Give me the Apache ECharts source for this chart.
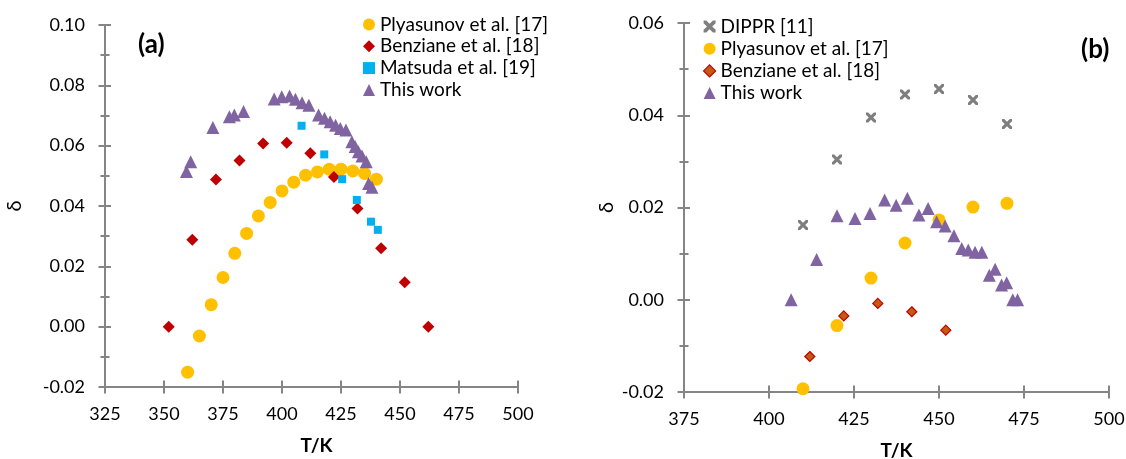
<!DOCTYPE html>
<html>
<head>
<meta charset="utf-8">
<script src="https://cdn.jsdelivr.net/npm/echarts@6/dist/echarts.min.js"></script>
<style>
html,body{margin:0;padding:0;background:#fff;}
#c{width:1126px;height:459px;}
</style>
</head>
<body>
<div id="c"></div>
<script>
// ---------- Panel (a) data ----------
const aPlyT = [360, 365, 370, 375, 380, 385, 390, 395, 400, 405, 410, 415, 420, 425, 430, 435, 440];
const aPlyD = [-0.0151, -0.0031, 0.0073, 0.0163, 0.0243, 0.0309, 0.0367, 0.0412, 0.0450, 0.0479, 0.0502, 0.0513, 0.0522, 0.0522, 0.0516, 0.0508, 0.0489];
const aBenT = [352, 362, 372, 382, 392, 402, 412, 422, 432, 442, 452, 462];
const aBenD = [0.0000, 0.0288, 0.0488, 0.0551, 0.0607, 0.0610, 0.0575, 0.0496, 0.0392, 0.0260, 0.0147, 0.0000];
const aMatT = [408.3, 417.9, 425.5, 431.7, 437.7, 440.6];
const aMatD = [0.0666, 0.0571, 0.0489, 0.0420, 0.0348, 0.0321];
const aWorkT = [359.5, 361.3, 370.7, 377.7, 379.8, 383.7, 396.7, 399.9, 403.2, 405.7, 408.5, 411.4, 415.5, 418.0, 420.4, 422.7, 424.7, 427.1, 429.6, 431.0, 432.4, 433.9, 435.7, 436.7, 438.1];
const aWorkD = [0.0514, 0.0547, 0.0660, 0.0696, 0.0702, 0.0713, 0.0755, 0.0762, 0.0765, 0.0754, 0.0742, 0.0734, 0.0702, 0.0691, 0.0679, 0.0668, 0.0657, 0.0652, 0.0613, 0.0597, 0.0580, 0.0566, 0.0547, 0.0475, 0.0462];

// ---------- Panel (b) data ----------
const bDipT = [410, 420, 430, 440, 450, 460, 470];
const bDipD = [0.0162, 0.0304, 0.0395, 0.0445, 0.0457, 0.0433, 0.0381];
const bPlyT = [410, 420, 430, 440, 450, 460, 470];
const bPlyD = [-0.0193, -0.0056, 0.0047, 0.0123, 0.0173, 0.0201, 0.0209];
const bBenT = [412, 422, 432, 442, 452];
const bBenD = [-0.0123, -0.0035, -0.0008, -0.0026, -0.0066];
const bWorkT = [406.5, 414.0, 420.0, 425.3, 429.7, 434.0, 437.4, 440.7, 444.1, 446.8, 449.3, 451.8, 454.4, 456.7, 458.6, 460.6, 462.6, 464.8, 466.5, 468.4, 469.9, 471.7, 473.1];
const bWorkD = [0.0000, 0.0087, 0.0182, 0.0176, 0.0187, 0.0216, 0.0205, 0.0220, 0.0184, 0.0198, 0.0169, 0.0160, 0.0139, 0.0111, 0.0108, 0.0103, 0.0103, 0.0053, 0.0066, 0.0032, 0.0037, 0.0000, 0.0000];

// ---------- Axis ranges / labels ----------
const aX = {min: 325, max: 500, interval: 25};
const aY = {min: -0.02, max: 0.10, interval: 0.02};
const bX = {min: 375, max: 500, interval: 25};
const bY = {min: -0.02, max: 0.06, interval: 0.02};
const names = {
  dip: 'DIPPR [11]',
  ply: 'Plyasunov et al. [17]',
  ben: 'Benziane et al. [18]',
  mat: 'Matsuda et al. [19]',
  work: 'This work'
};

const zip = (xs, ys) => xs.map((x, i) => [x, ys[i]]);
const FONT = 'Lato, "Open Sans", sans-serif';
const AXC = '#858585';
const AXW = 2;
const crossPath = 'path://M0,0 L2.2,0 L5,2.8 L7.8,0 L10,0 L10,2.2 L7.2,5 L10,7.8 L10,10 L7.8,10 L5,7.2 L2.2,10 L0,10 L0,7.8 L2.8,5 L0,2.2 Z';

const C = {
  yellow: '#FFC000', red: '#C00000', blue: '#00B0F0', purple: '#8064A2', grey: '#7F7F7F', brown: '#C55A11'
};

function xMain(gi, r, nameShift) {
  return {
    type: 'value', gridIndex: gi, min: r.min, max: r.max, interval: r.interval,
    position: 'bottom',
    name: 'T/K', nameLocation: 'middle', nameGap: 49,
    nameTextStyle: {fontFamily: FONT, fontSize: 19, fontWeight: 'bold', color: '#000', padding: [0, 0, 0, nameShift]},
    axisLine: {show: true, onZero: false, lineStyle: {color: AXC, width: AXW}},
    axisTick: {show: true, length: 6.5, lineStyle: {color: AXC, width: AXW}},
    axisLabel: {fontFamily: FONT, fontSize: 18, color: '#000', margin: 18},
    splitLine: {show: false}
  };
}
function xInner(gi, r) {
  return {
    type: 'value', gridIndex: gi, min: r.min, max: r.max, interval: r.interval,
    position: 'bottom',
    axisLine: {show: false, onZero: false},
    axisTick: {show: true, inside: true, length: 6.5, lineStyle: {color: AXC, width: AXW}},
    axisLabel: {show: false},
    splitLine: {show: false}
  };
}
function yMain(gi, r, gap) {
  return {
    type: 'value', gridIndex: gi, min: r.min, max: r.max, interval: r.interval,
    position: 'left',
    name: 'δ', nameLocation: 'middle', nameGap: gap, nameRotate: 90,
    nameTextStyle: {fontFamily: FONT, fontSize: 20, color: '#000'},
    axisLine: {show: true, onZero: false, lineStyle: {color: AXC, width: AXW}},
    axisTick: {show: true, length: 6.5, lineStyle: {color: AXC, width: AXW}},
    minorTick: {show: true, splitNumber: 2, length: 4.5, lineStyle: {color: AXC, width: AXW}},
    axisLabel: {fontFamily: FONT, fontSize: 18, color: '#000', margin: 20, formatter: v => v.toFixed(2)},
    splitLine: {show: false}, minorSplitLine: {show: false}
  };
}
function yInner(gi, r) {
  return {
    type: 'value', gridIndex: gi, min: r.min, max: r.max, interval: r.interval,
    position: 'left',
    axisLine: {show: false, onZero: false},
    axisTick: {show: true, inside: true, length: 6, lineStyle: {color: AXC, width: AXW}},
    minorTick: {show: true, splitNumber: 2, length: 4.5, lineStyle: {color: AXC, width: AXW}},
    axisLabel: {show: false},
    splitLine: {show: false}, minorSplitLine: {show: false}
  };
}

function sc(name, data, xi, yi, symbol, size, color, border) {
  return {
    type: 'scatter', name: name, data: data, xAxisIndex: xi, yAxisIndex: yi,
    symbol: symbol, symbolSize: size,
    itemStyle: {color: color, opacity: 1, borderColor: border || color, borderWidth: border ? 1.2 : 0},
    emphasis: {disabled: true}, z: 3
  };
}

const legendText = {fontFamily: FONT, fontSize: 19, color: '#000', lineHeight: 19};

const option = {
  animation: false,
  backgroundColor: '#fff',
  grid: [
    {left: 105, top: 25, width: 413, height: 362, containLabel: false, outerBoundsMode: 'none'},
    {left: 684, top: 23, width: 425, height: 369, containLabel: false, outerBoundsMode: 'none'}
  ],
  xAxis: [xMain(0, aX, 10), xMain(1, bX, 0), xInner(0, aX), xInner(1, bX)],
  yAxis: [yMain(0, aY, 80), yMain(1, bY, 67), yInner(0, aY), yInner(1, bY)],
  title: [
    {text: '(a)', left: 133, top: 27, textStyle: {fontFamily: FONT, fontSize: 26, fontWeight: 'bold', color: '#000'}},
    {text: '(b)', left: 1076, top: 32, textStyle: {fontFamily: FONT, fontSize: 26, fontWeight: 'bold', color: '#000'}}
  ],
  legend: [
    {
      orient: 'vertical', left: 358, top: 10, itemWidth: 12, itemHeight: 12, itemGap: 2.8,
      textStyle: legendText, selectedMode: false,
      data: [
        {name: names.ply, icon: 'circle', itemStyle: {color: C.yellow, borderWidth: 0}},
        {name: names.ben, icon: 'diamond', itemStyle: {color: C.red, borderWidth: 0}},
        {name: names.mat, icon: 'rect', itemStyle: {color: C.blue, borderWidth: 0}},
        {name: names.work, icon: 'triangle', itemStyle: {color: C.purple, borderWidth: 0}}
      ]
    },
    {
      orient: 'vertical', left: 698, top: 12, itemWidth: 12, itemHeight: 12, itemGap: 3.2,
      textStyle: legendText, selectedMode: false,
      data: [
        {name: names.dip, icon: crossPath, itemStyle: {color: C.grey, borderWidth: 0}},
        {name: names.ply, icon: 'circle', itemStyle: {color: C.yellow, borderWidth: 0}},
        {name: names.ben, icon: 'diamond', itemStyle: {color: C.brown, borderColor: C.red, borderWidth: 1.2}},
        {name: names.work, icon: 'triangle', itemStyle: {color: C.purple, borderWidth: 0}}
      ]
    }
  ],
  series: [
    sc(names.ply, zip(aPlyT, aPlyD), 0, 0, 'circle', 13, C.yellow),
    sc(names.ben, zip(aBenT, aBenD), 0, 0, 'diamond', 12, C.red),
    sc(names.mat, zip(aMatT, aMatD), 0, 0, 'rect', 8, C.blue),
    sc(names.work, zip(aWorkT, aWorkD), 0, 0, 'triangle', 13, C.purple),
    sc(names.dip, zip(bDipT, bDipD), 1, 1, crossPath, 10, C.grey),
    sc(names.ply, zip(bPlyT, bPlyD), 1, 1, 'circle', 13, C.yellow),
    sc(names.ben, zip(bBenT, bBenD), 1, 1, 'diamond', 10, C.brown, C.red),
    sc(names.work, zip(bWorkT, bWorkD), 1, 1, 'triangle', 13, C.purple)
  ]
};

const chart = echarts.init(document.getElementById('c'), null, {renderer: 'canvas'});
chart.setOption(option);
</script>
</body>
</html>
